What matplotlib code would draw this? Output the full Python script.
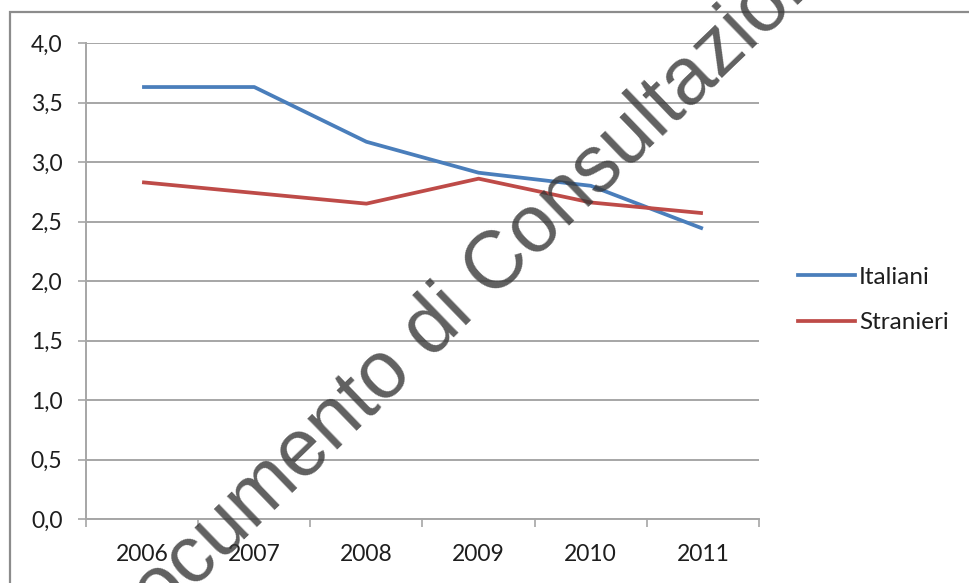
import matplotlib
matplotlib.use("Agg")
import matplotlib.pyplot as plt
from matplotlib.lines import Line2D
from matplotlib.patches import Rectangle

# Data
anni = ["2006", "2007", "2008", "2009", "2010", "2011"]
italiani = [3.63, 3.63, 3.17, 2.91, 2.80, 2.44]
stranieri = [2.83, 2.74, 2.65, 2.86, 2.66, 2.57]
y_ticks = [0.0, 0.5, 1.0, 1.5, 2.0, 2.5, 3.0, 3.5, 4.0]
y_labels = ["0,0", "0,5", "1,0", "1,5", "2,0", "2,5", "3,0", "3,5", "4,0"]

BLUE = "#4A7EBB"
RED = "#BE4B48"
GRID = "#A6A6A6"
TEXT = "#1e1e1e"
FONT = "Lato"

W, H = 969, 583
fig = plt.figure(figsize=(W / 100, H / 100), dpi=100)
fig.patch.set_facecolor("white")

# Plot area in pixel terms
left, right, top, bottom = 86, 759, 43, 519
ax = fig.add_axes([left / W, 1 - bottom / H, (right - left) / W, (bottom - top) / H])

x = list(range(len(anni)))
ax.plot(x, italiani, color=BLUE, lw=2.7, solid_joinstyle="round", solid_capstyle="butt", zorder=3)
ax.plot(x, stranieri, color=RED, lw=2.7, solid_joinstyle="round", solid_capstyle="butt", zorder=3)

ax.set_xlim(-0.5, len(anni) - 0.5)
ax.set_ylim(0, 4.0)

# Y axis: horizontal gridlines, comma decimals
ax.set_yticks(y_ticks)
ax.set_yticklabels(y_labels, fontsize=16.5, family=FONT, color=TEXT)
ax.yaxis.grid(True, color=GRID, lw=1.4)
ax.tick_params(axis="y", length=6, width=1.2, color=GRID, pad=11)

# X axis: labels centred on categories, tick marks between them
ax.set_xticks(x)
ax.set_xticklabels(anni, fontsize=16.5, family=FONT, color=TEXT)
ax.tick_params(axis="x", which="major", length=0, pad=18)
ax.set_xticks([i - 0.5 for i in range(len(anni) + 1)], minor=True)
ax.tick_params(axis="x", which="minor", length=6, width=1.2, color=GRID)

for s in ["top", "right"]:
    ax.spines[s].set_visible(False)
for s in ["left", "bottom"]:
    ax.spines[s].set_color(GRID)
    ax.spines[s].set_linewidth(1.4)
ax.set_axisbelow(True)

# Legend
handles = [Line2D([], [], color=BLUE, lw=2.7), Line2D([], [], color=RED, lw=2.7)]
fig.legend(handles, ["Italiani", "Stranieri"], loc="center left",
           bbox_to_anchor=(798 / W, 1 - 300 / H), frameon=False,
           prop={"family": FONT, "size": 17.5}, handlelength=2.35,
           handletextpad=0.15, labelspacing=1.02, borderpad=0, borderaxespad=0,
           labelcolor=TEXT)

# Chart frame
fig.add_artist(Rectangle((10 / W, -0.05), 1.0, 1 - 12 / H + 0.05,
                         transform=fig.transFigure, fill=False,
                         edgecolor="#8c8c8c", lw=1.6, clip_on=False))

# Diagonal watermark
fig.text(474 / W, 1 - 289 / H, "Documento di Consultazione",
         family="Liberation Sans", fontsize=58, color="#383838", alpha=0.8,
         rotation=44, ha="center", va="center", rotation_mode="anchor", zorder=10)

fig.savefig("out.png", dpi=100, facecolor="white")
